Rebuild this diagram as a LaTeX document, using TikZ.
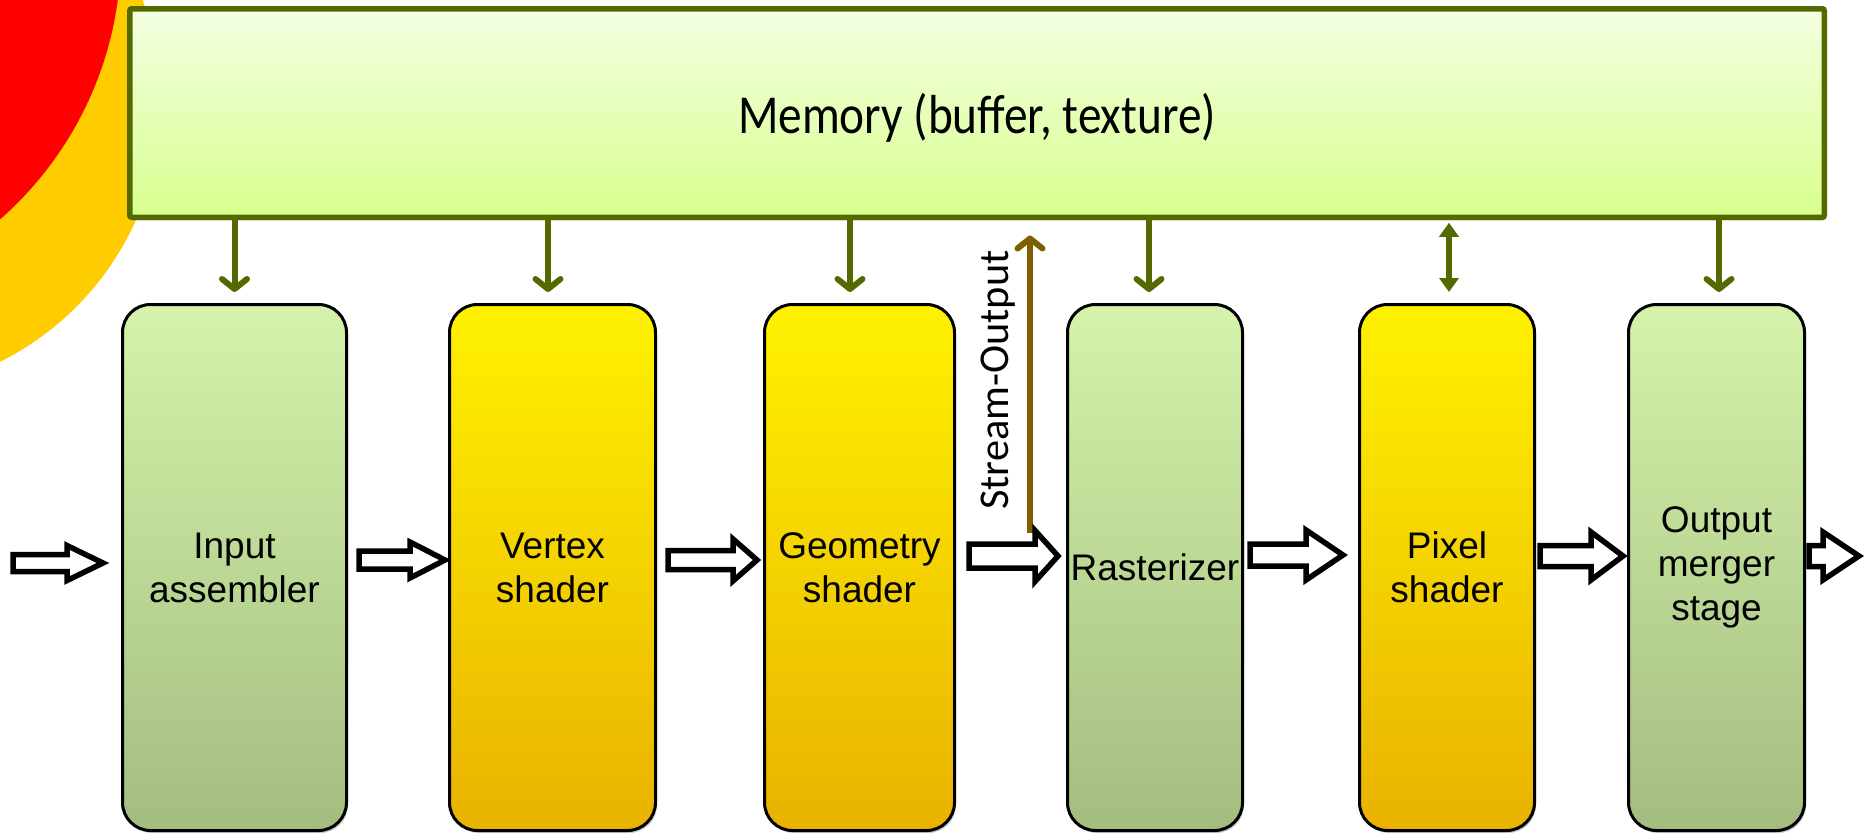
\documentclass[tikz,border=0pt]{standalone}
\usepackage{fontspec}
\usepackage{graphicx}
\setmainfont{Liberation Sans}
\newfontfamily\calibri{Carlito}
\usetikzlibrary{arrows.meta,calc,shadows}

\definecolor{memline}{RGB}{84,106,0}
\definecolor{memtop}{RGB}{244,255,226}
\definecolor{membot}{RGB}{216,255,142}
\definecolor{greentop}{RGB}{213,243,170}
\definecolor{greenbot}{RGB}{163,189,128}
\definecolor{yeltop}{RGB}{255,242,0}
\definecolor{yelbot}{RGB}{233,178,0}
\definecolor{soline}{RGB}{127,96,0}
\definecolor{circyellow}{RGB}{255,204,0}
\definecolor{circred}{RGB}{255,0,0}

\tikzset{
  stagebox/.style={draw=black, line width=3pt, rounded corners=28pt,
    minimum height=526pt, inner sep=0pt, align=center,
    font=\fontsize{37}{44}\selectfont,
    drop shadow={shadow xshift=1.5pt, shadow yshift=-2.5pt, opacity=0.22, fill=black}},
  greenbox/.style={top color=greentop, bottom color=greenbot},
  yellowbox/.style={top color=yeltop, bottom color=yelbot},
  membox/.style={draw=memline, line width=5.5pt, rounded corners=2pt,
    top color=memtop, bottom color=membot, inner sep=0pt,
    drop shadow={shadow xshift=1.5pt, shadow yshift=-3pt, opacity=0.22, fill=black}},
  memarr/.style={draw=memline, line width=6pt,
    -{Straight Barb[length=10pt,width=25pt,round]}},
  memdbl/.style={draw=memline, line width=6pt,
    {Triangle[length=14pt,width=19pt]}-{Triangle[length=14pt,width=19pt]}},
  soarr/.style={draw=soline, line width=6pt,
    -{Straight Barb[length=10pt,width=25pt,round]}},
  blockarr/.style={draw=black, fill=white, line width=5.5pt, line join=miter},
}

\newcommand\blockarrow[5]{%
  \draw[blockarr] ($(#1)+(0,#3)$) -- ($(#2)+(-#5,#3)$) -- ($(#2)+(-#5,#4)$) -- (#2)
    -- ($(#2)+(-#5,-#4)$) -- ($(#2)+(-#5,-#3)$) -- ($(#1)+(0,-#3)$) -- cycle;}

\begin{document}
\begin{tikzpicture}[x=1pt,y=-1pt]
\useasboundingbox (0,0) rectangle (1864,836);

% decorative circles
\begin{scope}
  \clip (0,0) rectangle (1864,836);
  \fill[circyellow] (-129,102) circle[radius=290pt];
  \fill[circred] (-235,-48) circle[radius=356pt];
\end{scope}

% memory
\node[membox, minimum width=1694.5pt, minimum height=208.5pt] (mem) at (977,113) {};
\node[font=\calibri\fontsize{55}{60}\selectfont, anchor=base, inner sep=0pt] (memlabel) at (977,133)
  {\scalebox{0.86}[1]{Memory (buffer, texture)}};

% stages
\node[stagebox, greenbox, minimum width=224pt] (ia) at (234.5,567.5) {Input\\assembler};
\node[stagebox, yellowbox, minimum width=206pt] (vs) at (552.5,567.5) {Vertex\\shader};
\node[stagebox, yellowbox, minimum width=190pt] (gs) at (859.5,567.5) {Geometry\\shader};
\node[stagebox, greenbox, minimum width=175pt] (ra) at (1155,567.5) {Rasterizer};
\node[stagebox, yellowbox, minimum width=175pt] (ps) at (1447,567.5) {Pixel\\shader};
\node[stagebox, greenbox, minimum width=176pt] (om) at (1716.5,567.5) {Output\\merger\\stage};

% memory arrows
\draw[memarr] ($(mem.south -| ia.north)+(0,0)$) -- ($(ia.north)+(0,-11)$);
\draw[memarr] ($(mem.south -| vs.north)+(-4.5,0)$) -- ($(vs.north)+(-4.5,-11)$);
\draw[memarr] ($(mem.south -| gs.north)+(-9.5,0)$) -- ($(gs.north)+(-9.5,-11)$);
\draw[memarr] ($(mem.south -| ra.north)+(-6,0)$) -- ($(ra.north)+(-6,-11)$);
\draw[memdbl] ($(mem.south -| ps.north)+(2,2.75)$) -- ($(ps.north)+(2,-11)$);
\draw[memarr] ($(mem.south -| om.north)+(2.5,0)$) -- ($(om.north)+(2.5,-11)$);

% stream output
\coordinate (sotail) at (1030,533);
\draw[soarr] (sotail) -- ($(mem.south -| sotail)+(0,15.5)$);
\node[font=\calibri\fontsize{42.4}{48}\selectfont, rotate=90, anchor=base, inner sep=0pt] (solabel) at (1008,380) {Stream-Output};

% block arrows
\coordinate (in) at (13,563);
\coordinate (a1h) at ($(ia.west)+(-18,-4.5)$);
\blockarrow{in}{a1h}{8.5}{17.5}{36}
\coordinate (a2t) at ($(ia.east)+(11,-7.5)$);
\coordinate (a2h) at ($(vs.west)+(-3,-7.5)$);
\blockarrow{a2t}{a2h}{9}{18}{35}
\coordinate (a3t) at ($(vs.east)+(11,-7.5)$);
\coordinate (a3h) at ($(gs.west)+(-6,-7.5)$);
\blockarrow{a3t}{a3h}{9.5}{21}{24}
\coordinate (a4t) at ($(gs.east)+(13,-11.5)$);
\coordinate (a4h) at ($(ra.west)+(-8,-11.5)$);
\blockarrow{a4t}{a4h}{12}{25.5}{23}
\coordinate (a5t) at ($(ra.east)+(6,-12.5)$);
\coordinate (a5h) at ($(ps.west)+(-15,-12.5)$);
\blockarrow{a5t}{a5h}{11}{25}{37}
\coordinate (a6t) at ($(ps.east)+(4,-11.5)$);
\coordinate (a6h) at ($(om.west)+(-4,-11.5)$);
\blockarrow{a6t}{a6h}{10.5}{24}{32}
\coordinate (a7t) at ($(om.east)+(3,-11.5)$);
\coordinate (out) at (1859,556);
\blockarrow{a7t}{out}{10.5}{24}{36}
\end{tikzpicture}
\end{document}
